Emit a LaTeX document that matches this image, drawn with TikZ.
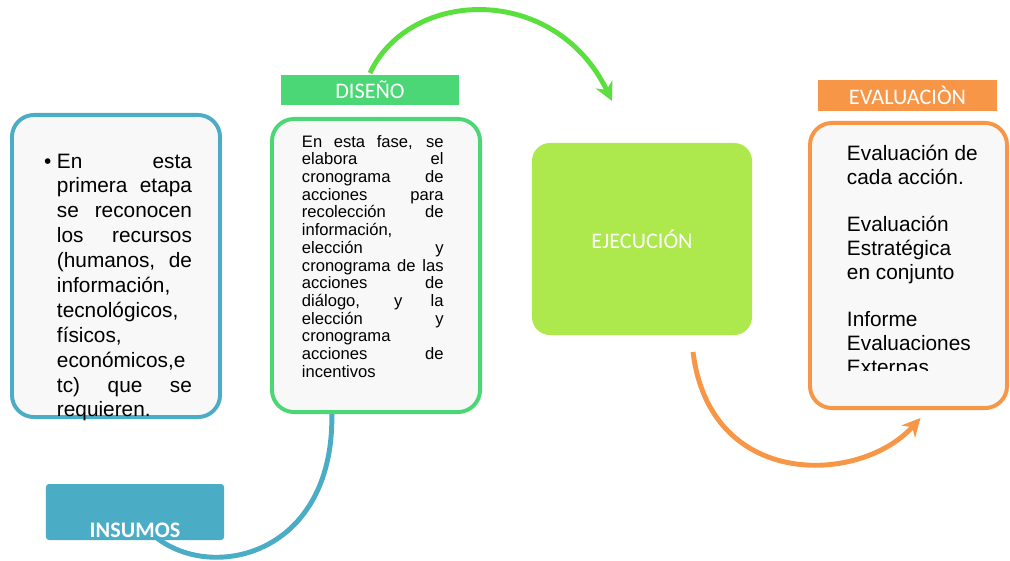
\documentclass[tikz,border=0pt]{standalone}
\usepackage{fontspec}
\setmainfont{Liberation Sans}
\newfontfamily\tagfont{Carlito}
\usetikzlibrary{arrows.meta,backgrounds}

\definecolor{insumosblue}{HTML}{4BACC6}
\definecolor{disenogreen}{HTML}{4CD776}
\definecolor{arcgreen}{HTML}{5BDF3E}
\definecolor{ejecucionlime}{HTML}{ADE84C}
\definecolor{evalorange}{HTML}{F79646}
\definecolor{panelfill}{HTML}{F8F8F8}

\begin{document}
\begin{tikzpicture}[x=0.025cm,y=-0.025cm,line width=2.8pt,
    >={Stealth[length=13pt,width=13pt]},
    panel/.style={draw=#1,fill=panelfill,rounded corners=0.55cm,inner sep=0pt},
    tagbox/.style={fill=#1,inner sep=0pt,text=white,
      font=\tagfont\fontsize{15.8}{18}\selectfont},
    flow/.style={->,draw=#1,line width=3.5pt},
    bodytext/.style={inner sep=0pt,anchor=base west,text=black}]
  \useasboundingbox (0,0) rectangle (1010,560);

  % boxes
  \node[panel=insumosblue,minimum width=5.2cm,minimum height=7.55cm] (recursos) at (116,266) {};
  \node[tagbox=disenogreen,minimum width=4.45cm,minimum height=0.75cm] (disenoTag) at (370,90) {DISEÑO};
  \node[panel=disenogreen,minimum width=5.2cm,minimum height=7.325cm] (diseno) at (376,265.5) {};
  \node[tagbox=ejecucionlime,rounded corners=0.45cm,minimum width=5.5cm,minimum height=4.8cm] (ejecucion) at (642,239) {EJECUCIÓN};
  \node[tagbox=evalorange,minimum width=4.475cm,minimum height=0.775cm] (evalTag) at (907.5,95.5) {EVALUACIÒN};
  \node[panel=evalorange,minimum width=4.925cm,minimum height=7.125cm] (evaluacion) at (908.5,265.5) {};
  \node[tagbox=insumosblue,font=\tagfont\bfseries\fontsize{15.8}{18}\selectfont,rounded corners=0.075cm,
        minimum width=4.45cm,inner ysep=0pt,text height=1.325cm,text depth=0.075cm] (insumos) at (135,512) {INSUMOS};

  % texts
  \node[bodytext] (recursosTxt) at (55,168) {\parbox[t]{3.375cm}{\fontsize{14.8}{17.7}\selectfont\hyphenpenalty=10000
    \noindent\llap{\textbullet\hspace{4pt}}En esta\linebreak primera etapa\linebreak se reconocen\linebreak
    los recursos\linebreak (humanos, de\linebreak información,\newline tecnológicos,\newline físicos,\newline
    económicos,e\newline tc) que se\linebreak requieren.}};
  \node[bodytext] (disenoTxt) at (300,147) {\parbox[t]{3.54cm}{\fontsize{11.8}{12.6}\selectfont\hyphenpenalty=10000
    En esta fase, se\linebreak elabora el\linebreak cronograma de\linebreak acciones para\linebreak
    recolección de\linebreak información,\newline elección y\linebreak cronograma de las\linebreak
    acciones de\linebreak diálogo, y la\linebreak elección y\linebreak cronograma\newline
    acciones de\linebreak incentivos}};
  \begin{scope}
    \clip (810,123) rectangle (1010,370);
    \node[bodytext] (evaluacionTxt) at (845,160.5) {\parbox[t]{4cm}{\fontsize{14.8}{16.9}\selectfont\raggedright
      Evaluación de\\ cada acción.\\[16.9pt] Evaluación\\ Estratégica\\ en conjunto\\[16.9pt]
      Informe\\ Evaluaciones\\ Externas}};
  \end{scope}

  % arcs
  \begin{scope}[on background layer]
    \draw[flow=insumosblue] (insumos.center) .. controls (175,590) and (340,575)
      .. ([xshift=-1.125cm,yshift=0.5cm]diseno.south);
    \draw[flow=arcgreen] (disenoTag.north) .. controls (410,-12) and (555,-17)
      .. ([xshift=-0.75cm,yshift=1cm]ejecucion.north);
    \draw[flow=evalorange] ([xshift=1.275cm,yshift=-0.375cm]ejecucion.south) .. controls (710,490) and (860,485)
      .. ([xshift=0.3cm,yshift=-0.2cm]evaluacion.south);
  \end{scope}
\end{tikzpicture}
\end{document}
